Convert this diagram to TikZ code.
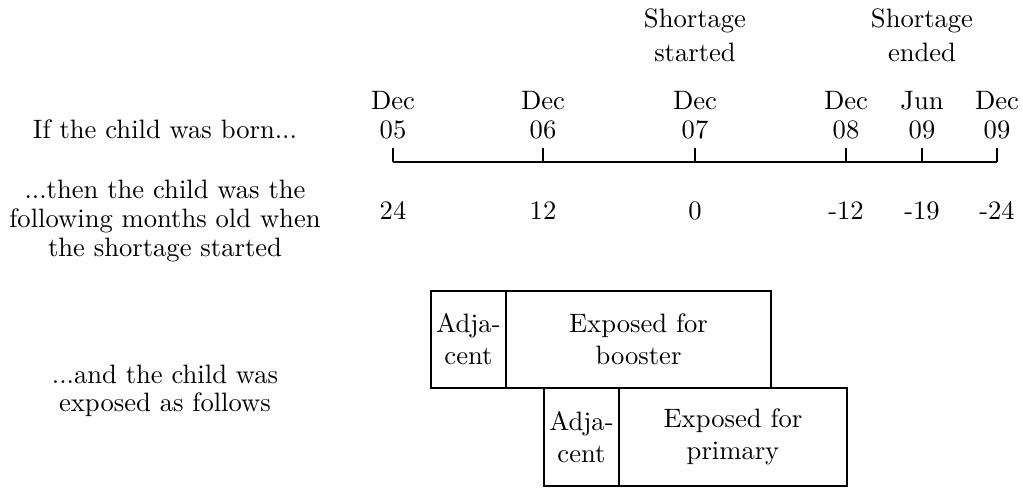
\documentclass[tikz,border=0pt]{standalone}
\newdimen\pxu \pxu=0.3759pt
\begin{document}
\begin{tikzpicture}[x=0.3759pt,y=-0.3759pt,
  lbl/.style={anchor=base,inner sep=0pt,font=\fontsize{10}{12}\selectfont},
  bx/.style={draw,line width=0.45pt,inner sep=0pt,align=center,font=\fontsize{10}{12}\selectfont},
  axisline/.style={line width=0.8pt},
  tickline/.style={line width=0.5pt}]
\useasboundingbox (0,0) rectangle (1023,487);

% left descriptions
\node[lbl] (born) at (165,138) {If the child was born...};
\node[lbl] (old1) at (165,198) {...then the child was the};
\node[lbl] (old2) at (165,227) {following months old when};
\node[lbl] (old3) at (165,256) {the shortage started};
\node[lbl] (exp1) at (165,383) {...and the child was};
\node[lbl] (exp2) at (165,411) {exposed as follows};

% shortage labels
\node[lbl] (ss1) at (695,27) {Shortage};
\node[lbl] (ss2) at (695,61) {started};
\node[lbl] (se1) at (922,27) {Shortage};
\node[lbl] (se2) at (922,61) {ended};

% timeline
\foreach \n/\x/\m/\yr/\age in {1/393/Dec/05/24, 2/543/Dec/06/12, 3/695/Dec/07/0, 4/846/Dec/08/-12, 5/922/Jun/09/-19, 6/997/Dec/09/-24}{
  \coordinate (t\n) at (\x,162);
  \coordinate (u\n) at (\x,148);
  \node[lbl] (mon\n) at (\x,109) {\m};
  \node[lbl] (yr\n) at (\x,138) {\yr};
  \node[lbl] (age\n) at (\x,219) {\age};
}
\draw[axisline] (t1) -- (t6);
\foreach \n in {1,...,6}{ \draw[tickline] (u\n) -- (t\n); }

% exposure boxes
\node[bx,minimum width=75\pxu,minimum height=97\pxu] (adjB) at (468.5,339.5) {Adja-\\cent};
\node[bx,minimum width=265\pxu,minimum height=97\pxu] (expB) at (638.5,339.5) {Exposed for\\booster};
\node[bx,minimum width=75\pxu,minimum height=98\pxu] (adjP) at (581.5,437) {Adja-\\cent};
\node[bx,minimum width=228\pxu,minimum height=98\pxu] (expP) at (733,437) {Exposed for\\primary};
\end{tikzpicture}
\end{document}
